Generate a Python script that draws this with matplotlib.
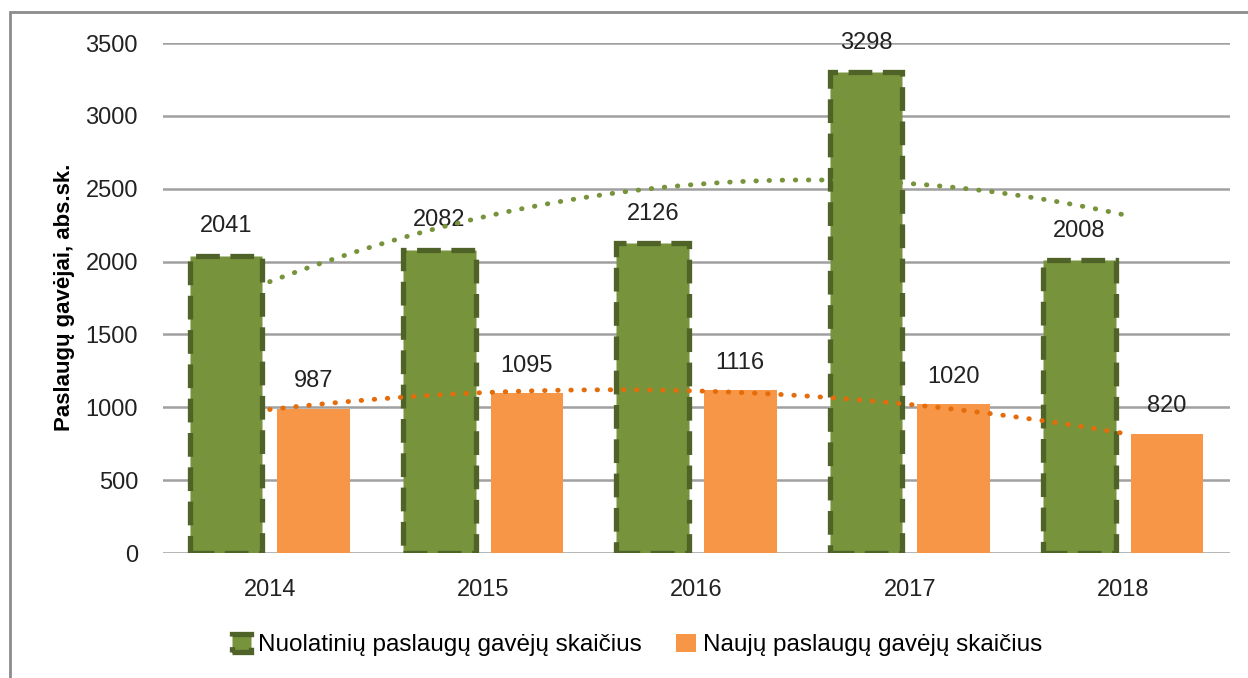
import numpy as np
import matplotlib
matplotlib.use("Agg")
import matplotlib.pyplot as plt
from matplotlib.patches import Rectangle

## Data
years = ["2014", "2015", "2016", "2017", "2018"]
nuolatiniu = [2041, 2082, 2126, 3298, 2008]
nauju = [987, 1095, 1116, 1020, 820]
yticks = [0, 500, 1000, 1500, 2000, 2500, 3000, 3500]

green = "#77933C"
green_dark = "#4F6228"
orange = "#F79646"
orange_trend = "#E46C0A"

plt.rcParams["font.family"] = ["Liberation Sans", "DejaVu Sans"]
fs = 17

fig = plt.figure(figsize=(12.48, 6.78), dpi=100)
ax = fig.add_axes([163 / 1248, 1 - 553 / 678, 1067 / 1248, 510 / 678])

x = np.arange(1, len(years) + 1)
w = 0.34

## Bars
ax.bar(x - 0.205, nuolatiniu, w, color=green, edgecolor=green_dark,
       linewidth=3.8, linestyle=(0, (4.5, 2)), zorder=3,
       label="Nuolatinių paslaugų gavėjų skaičius")
ax.bar(x + 0.205, nauju, w, color=orange, zorder=3,
       label="Naujų paslaugų gavėjų skaičius")

## Value labels
for xi, v in zip(x, nuolatiniu):
    ax.text(xi - 0.205, v + 200, str(v), ha="center", va="center", fontsize=fs, color="#222222")
for xi, v in zip(x, nauju):
    ax.text(xi + 0.205, v + 190, str(v), ha="center", va="center", fontsize=fs, color="#222222")

## Trendlines (polynomial, order 2)
xs = np.linspace(1, len(years), 200)
pg = np.polyfit(x, nuolatiniu, 2)
po = np.polyfit(x, nauju, 2)
ax.plot(xs, np.polyval(pg, xs), color=green, linewidth=3.5,
        linestyle=(0, (0.1, 2.6)), dash_capstyle="round", zorder=4)
ax.plot(xs, np.polyval(po, xs), color=orange_trend, linewidth=3.5,
        linestyle=(0, (0.1, 2.6)), dash_capstyle="round", zorder=4)

## Axes
ax.set_xlim(0.5, len(years) + 0.5)
ax.set_ylim(0, 3500)
ax.set_xticks(x)
ax.set_xticklabels(years, fontsize=fs)
ax.set_yticks(yticks)
ax.set_yticklabels([str(t) for t in yticks], fontsize=fs)
ax.tick_params(length=0, colors="#222222")
ax.tick_params(axis="y", pad=18)
ax.tick_params(axis="x", pad=19)
ax.grid(axis="y", color="#A0A0A0", linewidth=1.8, zorder=0)
ax.set_axisbelow(True)
for s in ax.spines.values():
    s.set_visible(False)

fig.text(65 / 1248, 1 - 297 / 678, "Paslaugų gavėjai, abs.sk.", rotation=90,
         ha="center", va="center", fontsize=16, fontweight="bold")

## Legend
fig.legend(loc="center", bbox_to_anchor=(637 / 1248, 1 - 645 / 678), ncol=2,
           frameon=False, fontsize=17.5, handlelength=0.8, handleheight=0.8,
           columnspacing=1.4, handletextpad=0.3)

## Frame
fig.add_artist(Rectangle((10 / 1248, -0.1), 1.2, 1 - 12 / 678 + 0.1,
                         transform=fig.transFigure, fill=False,
                         edgecolor="#8C8C8C", linewidth=2))

plt.savefig("out.png", dpi=100)
